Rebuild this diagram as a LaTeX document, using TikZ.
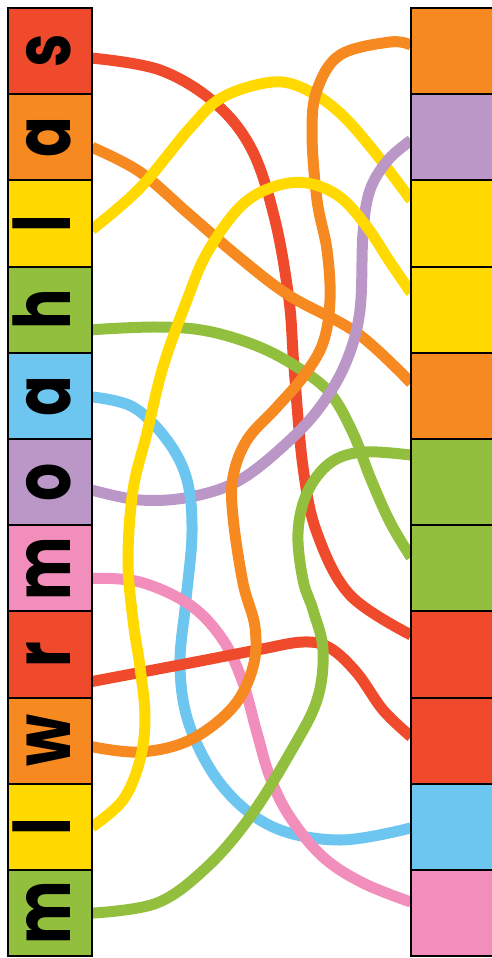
\documentclass[tikz,border=0pt]{standalone}
\usepackage{fontspec}
\newfontfamily\tilefont{Poppins}
\usetikzlibrary{positioning,backgrounds}
\definecolor{TileRed}{RGB}{239,74,43}
\definecolor{TileOrange}{RGB}{246,137,32}
\definecolor{TileYellow}{RGB}{255,217,0}
\definecolor{TileGreen}{RGB}{146,191,62}
\definecolor{TileBlue}{RGB}{108,198,240}
\definecolor{TilePurple}{RGB}{186,151,199}
\definecolor{TilePink}{RGB}{242,142,187}

\begin{document}
\begin{tikzpicture}[
        x=1pt, y=-1pt,
        node distance=0pt,
        tile/.style={
            draw=black,
            line width=2pt,
            outer sep=0pt,
            inner sep=0pt,
            minimum width=84pt,
            minimum height=86.2pt
        },
        glyph/.style={
            rotate=90,
            anchor=base,
            inner sep=0pt,
            font=\tilefont\bfseries\fontsize{60}{60}\selectfont
        },
        link/.style={
            line width=11pt,
            smooth,
            tension=0.6
        }
    ]
        \useasboundingbox (0,0) rectangle (492,958);

        % left column
        \node[tile, fill=TileRed] (l1) at (50,51.1) {};
        \node[tile, fill=TileOrange, below=of l1] (l2) {};
        \node[tile, fill=TileYellow, below=of l2] (l3) {};
        \node[tile, fill=TileGreen, below=of l3] (l4) {};
        \node[tile, fill=TileBlue, below=of l4] (l5) {};
        \node[tile, fill=TilePurple, below=of l5] (l6) {};
        \node[tile, fill=TilePink, below=of l6] (l7) {};
        \node[tile, fill=TileRed, below=of l7] (l8) {};
        \node[tile, fill=TileOrange, below=of l8] (l9) {};
        \node[tile, fill=TileYellow, below=of l9] (l10) {};
        \node[tile, fill=TileGreen, below=of l10] (l11) {};

        % right column
        \node[tile, fill=TileOrange] (r1) at (453,51.1) {};
        \node[tile, fill=TilePurple, below=of r1] (r2) {};
        \node[tile, fill=TileYellow, below=of r2] (r3) {};
        \node[tile, fill=TileYellow, below=of r3] (r4) {};
        \node[tile, fill=TileOrange, below=of r4] (r5) {};
        \node[tile, fill=TileGreen, below=of r5] (r6) {};
        \node[tile, fill=TileGreen, below=of r6] (r7) {};
        \node[tile, fill=TileRed, below=of r7] (r8) {};
        \node[tile, fill=TileRed, below=of r8] (r9) {};
        \node[tile, fill=TileBlue, below=of r9] (r10) {};
        \node[tile, fill=TilePink, below=of r10] (r11) {};

        % letters
        \node[glyph] (g1) at ([xshift=20pt]l1.center) {\scalebox{1}[1.3]{s}};
        \node[glyph] (g2) at ([xshift=20pt]l2.center) {\scalebox{1}[1.3]{a}};
        \node[glyph] (g3) at ([xshift=20pt]l3.center) {\scalebox{1}[1.3]{l}};
        \node[glyph] (g4) at ([xshift=20pt]l4.center) {\scalebox{1}[1.3]{h}};
        \node[glyph] (g5) at ([xshift=20pt]l5.center) {\scalebox{1}[1.3]{a}};
        \node[glyph] (g6) at ([xshift=20pt]l6.center) {\scalebox{1}[1.3]{o}};
        \node[glyph] (g7) at ([xshift=20pt]l7.center) {\scalebox{1}[1.3]{m}};
        \node[glyph] (g8) at ([xshift=20pt]l8.center) {\scalebox{1}[1.3]{r}};
        \node[glyph] (g9) at ([xshift=20pt]l9.center) {\scalebox{1}[1.3]{w}};
        \node[glyph] (g10) at ([xshift=20pt]l10.center) {\scalebox{1}[1.3]{l}};
        \node[glyph] (g11) at ([xshift=20pt]l11.center) {\scalebox{1}[1.3]{m}};

        % connectors
        \begin{scope}[on background layer]
        \draw[link, TileRed] plot coordinates {([yshift=-7pt]l1.east) (160,70) (215,103) (252,150) (275,220) (289,300) (294,367) (303,467) (317,533) (350,595) ([yshift=19.5pt]r8.west)};
        \draw[link, TileOrange] plot coordinates {([yshift=-10pt]l2.east) (140,172) (190,215) (240,258) (290,296) (357,333) ([yshift=13pt]r5.west)};
        \draw[link, TileYellow] plot coordinates {([yshift=-6pt]l3.east) (140,188) (190,128) (223,97) (273,82) (307,90) (340,113) (373,150) ([yshift=23.5pt]r3.west)};
        \draw[link, TileGreen] plot coordinates {([yshift=-20pt]l4.east) (157,327) (207,331) (257,346) (297,367) (330,393) (353,433) (370,477) (390,522) ([yshift=11pt]r7.west)};
        \draw[link, TilePurple] plot coordinates {([yshift=-8pt]l6.east) (140,500) (190,497) (240,480) (290,440) (323,403) (347,360) (360,310) (363,233) (370,190) (388,160) ([yshift=-3pt]r2.west)};
        \draw[link, TileBlue] plot coordinates {([yshift=-1pt]l5.east) (133,407) (167,440) (187,480) (192,533) (186,600) (180,667) (190,727) (223,787) (273,827) (340,840) ([yshift=-1pt]r10.west)};
        \draw[link, TilePink] plot coordinates {([yshift=-10pt]l7.east) (140,582) (190,605) (223,640) (243,683) (257,733) (270,777) (290,817) (323,857) (363,883) ([yshift=11pt]r11.west)};
        \draw[link, TileRed] plot coordinates {([yshift=-27pt]l8.east) (190,663) (257,650) (303,642) (330,648) (357,673) (383,710) ([yshift=4pt]r9.west)};
        \draw[link, TileOrange] plot coordinates {([yshift=-6pt]l9.east) (140,752) (190,740) (233,707) (253,667) (255,627) (243,583) (233,517) (233,477) (247,440) (277,407) (303,377) (323,343) (330,300) (327,250) (317,200) (312,133) (317,90) (340,55) (390,42) ([yshift=6pt]r1.west)};
        \draw[link, TileYellow] plot coordinates {(l10.east) (123,800) (140,760) (145,717) (140,667) (133,620) (128,560) (133,490) (147,433) (163,367) (187,300) (207,253) (240,207) (273,187) (307,183) (340,197) (367,227) (390,262) ([yshift=17pt]r4.west)};
        \draw[link, TileGreen] plot coordinates {(l11.east) (157,903) (207,867) (250,817) (290,753) (317,700) (323,650) (313,610) (303,580) (298,533) (307,493) (330,463) (363,452) ([yshift=27pt]r6.west)};
        \end{scope}
    \end{tikzpicture}
\end{document}
